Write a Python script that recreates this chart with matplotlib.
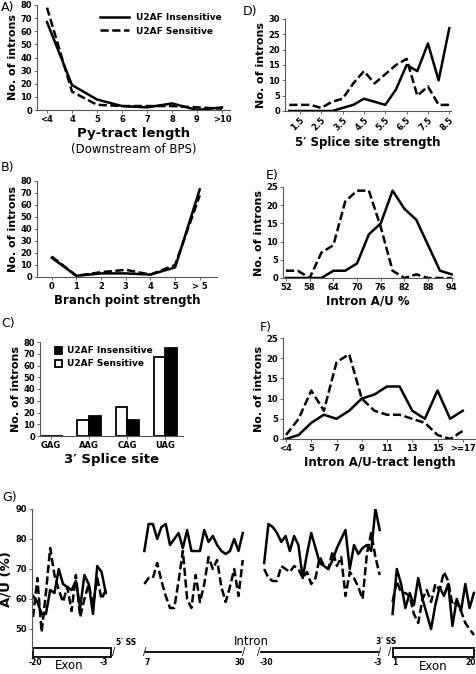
import numpy as np
import matplotlib.pyplot as plt
import matplotlib.patches as mpatches
from matplotlib.lines import Line2D

plt.rcParams["font.family"] = "DejaVu Sans"

# A) Py-tract length
py_labels = ["<4", "4", "5", "6", "7", "8", "9", ">10"]
py_insens = [67, 19, 8, 3, 2, 5, 0, 2]
py_sens = [78, 14, 4, 3, 3, 3, 2, 1]

# B) Branch point strength
bps_labels = ["0", "1", "2", "3", "4", "5", "> 5"]
bps_insens = [16, 1, 3, 3, 2, 8, 73]
bps_sens = [17, 1, 4, 6, 2, 10, 68]

# C) 3' splice site
ss3_labels = ["GAG", "AAG", "CAG", "UAG"]
ss3_insens = [0, 17, 14, 75]
ss3_sens = [0, 14, 25, 67]

# D) 5' splice site strength
ss5_bins = [1.0, 1.5, 2.0, 2.5, 3.0, 3.5, 4.0, 4.5, 5.0, 5.5, 6.0, 6.5, 7.0, 7.5, 8.0, 8.5]
ss5_insens = [0, 0, 0, 0, 0, 1, 2, 4, 3, 2, 7, 15, 13, 22, 10, 27]
ss5_sens = [2, 2, 2, 1, 3, 4, 9, 13, 9, 12, 15, 17, 5, 8, 2, 2]

# E) Intron A/U %
au_bins = [52, 55, 58, 61, 64, 67, 70, 73, 76, 79, 82, 85, 88, 91, 94]
au_insens = [0, 0, 0, 0, 2, 2, 4, 12, 15, 24, 19, 16, 9, 2, 1]
au_sens = [2, 2, 0, 7, 9, 21, 24, 24, 14, 2, 0, 1, 0, 0, 0]

# F) Intron A/U-tract length
tract_labels = ["<4", "4", "5", "6", "7", "8", "9", "10", "11", "12", "13", "14", "15", "16", ">=17"]
tract_insens = [0, 1, 4, 6, 5, 7, 10, 11, 13, 13, 7, 5, 12, 5, 7]
tract_sens = [1, 5, 12, 7, 19, 21, 10, 7, 6, 6, 5, 4, 1, 0, 2]

# G) A/U profile around splice sites
g_exon5_pos = (-20, -3)
g_exon5_insens = [61, 59, 55, 55, 63, 62, 70, 65, 64, 63, 66, 57, 68, 65, 55, 71, 69, 62]
g_exon5_sens = [54, 67, 49, 62, 77, 68, 63, 59, 64, 56, 68, 54, 60, 65, 58, 67, 60, 63]
g_intron5_pos = (7, 30)
g_intron5_insens = [76, 85, 85, 80, 84, 85, 78, 80, 82, 77, 83, 76, 76, 76, 83, 79, 81, 78,
                    76, 75, 76, 80, 76, 82]
g_intron5_sens = [65, 67, 67, 72, 66, 61, 57, 57, 66, 76, 60, 57, 68, 59, 65, 74, 70, 73,
                  64, 59, 64, 70, 61, 73]
g_intron3_pos = (-30, -3)
g_intron3_insens = [72, 85, 84, 82, 79, 81, 76, 81, 78, 67, 75, 82, 77, 72, 71, 70, 73, 77,
                    80, 83, 70, 78, 75, 77, 78, 76, 90, 83]
g_intron3_sens = [70, 67, 66, 66, 71, 70, 69, 71, 70, 67, 69, 65, 67, 74, 71, 70, 76, 71,
                  74, 61, 69, 67, 64, 60, 75, 82, 74, 68]
g_exon3_pos = (1, 20)
g_exon3_insens = [55, 70, 65, 57, 62, 58, 67, 60, 55, 50, 58, 64, 61, 65, 51, 60, 56, 65, 57, 62]
g_exon3_sens = [59, 66, 62, 62, 61, 55, 52, 60, 63, 59, 65, 63, 69, 66, 58, 59, 56, 52, 50, 48]

W, H = 476, 674
fig = plt.figure(figsize=(W / 100, H / 100), dpi=100)

LW = 1.8
DASH = (3.3, 1.4)
TICK_FS = 6
LABEL_FS = 8.5
YLABEL_FS = 8


def px_axes(left, right, top, bottom):
    return fig.add_axes([left / W, 1 - bottom / H, (right - left) / W, (bottom - top) / H])


def style(ax, ymax, ystep):
    for s in ["top", "right"]:
        ax.spines[s].set_visible(False)
    for s in ["left", "bottom"]:
        ax.spines[s].set_linewidth(0.8)
        ax.spines[s].set_color("#555555")
    ax.set_ylim(0, ymax)
    ax.set_yticks(np.arange(0, ymax + 1, ystep))
    ax.tick_params(axis="both", labelsize=TICK_FS, length=2, width=0.6, pad=1.5, color="#555555")
    for t in ax.get_yticklabels() + ax.get_xticklabels():
        t.set_fontweight("bold")


def line_panel(ax, insens, sens, ymax, ystep, xlim, ticks, ticklabels, xlabel, rot=0):
    x = np.arange(len(insens))
    ax.plot(x, sens, color="black", lw=LW, dashes=DASH)
    ax.plot(x, insens, color="black", lw=LW)
    ax.set_xlim(*xlim)
    ax.set_xticks(ticks)
    ax.set_xticklabels(ticklabels, rotation=rot, ha="center" if rot == 0 else "right",
                       rotation_mode="anchor" if rot else "default")
    style(ax, ymax, ystep)
    ax.set_xlabel(xlabel, fontsize=LABEL_FS, fontweight="bold", labelpad=2)
    ax.set_ylabel("No. of introns", fontsize=YLABEL_FS, fontweight="bold", labelpad=2)


# A
axA = px_axes(37, 230, 5, 110)
line_panel(axA, py_insens, py_sens, 80, 10, (-0.4, 7.32), range(len(py_labels)), py_labels,
           "Py-tract length")
axA.xaxis.label.set_fontsize(9.5)
axA.text(0.5, -0.31, "(Downstream of BPS)", transform=axA.transAxes, ha="center", va="top",
         fontsize=8.5)
axA.legend(handles=[Line2D([], [], color="black", lw=LW),
                    Line2D([], [], color="black", lw=LW, dashes=DASH)],
           labels=["U2AF Insensitive", "U2AF Sensitive"], loc="upper right",
           bbox_to_anchor=(1.0, 1.0), frameon=False, handlelength=3.2,
           prop={"size": 6.5, "weight": "bold"}, labelspacing=0.5)

# B
axB = px_axes(37, 217, 181, 277)
line_panel(axB, bps_insens, bps_sens, 80, 10, (-0.6, 6.7), range(len(bps_labels)), bps_labels,
           "Branch point strength")

# C
axC = px_axes(40, 183, 342, 436)
xc = np.arange(len(ss3_labels))
bw = 0.31
axC.bar(xc - bw / 2, ss3_sens, bw, color="white", edgecolor="black", lw=1.3,
        label="U2AF Sensitive")
axC.bar(xc + bw / 2, ss3_insens, bw, color="black", edgecolor="black", lw=1.3,
        label="U2AF Insensitive")
axC.set_xlim(-0.29, 3.46)
axC.set_xticks(xc)
axC.set_xticklabels(ss3_labels)
style(axC, 80, 10)
axC.set_xlabel("3\u2032 Splice site", fontsize=9.5, fontweight="bold", labelpad=2)
axC.set_ylabel("No. of introns", fontsize=YLABEL_FS, fontweight="bold", labelpad=2)
h, l = axC.get_legend_handles_labels()
axC.legend(h[::-1], l[::-1], loc="upper left", bbox_to_anchor=(0.05, 1.04), frameon=False,
           handlelength=0.8, handleheight=0.8, handletextpad=0.5,
           prop={"size": 6.5, "weight": "bold"}, labelspacing=0.45)

# D
axD = px_axes(285, 451, 19, 111)
idx_d = list(range(1, len(ss5_bins), 2))
line_panel(axD, ss5_insens, ss5_sens, 30, 5, (-0.4, 15.16), idx_d,
           [f"{ss5_bins[i]:g}" for i in idx_d], "5\u2032 Splice site strength", rot=45)

# E
axE = px_axes(283, 453, 187, 278)
idx_e = list(range(0, len(au_bins), 2))
line_panel(axE, au_insens, au_sens, 25, 5, (-0.25, 14.1), idx_e,
           [str(au_bins[i]) for i in idx_e], "Intron A/U %")

# F
axF = px_axes(283, 476, 338, 439)
idx_f = list(range(0, len(tract_labels), 2))
line_panel(axF, tract_insens, tract_sens, 25, 5, (-0.24, 15.05), idx_f,
           [tract_labels[i] for i in idx_f], "Intron A/U-tract length")

# G
axG = px_axes(32, 476, 509, 650)
segments = [
    (0, g_exon5_pos, g_exon5_insens, g_exon5_sens),
    (26, g_intron5_pos, g_intron5_insens, g_intron5_sens),
    (54, g_intron3_pos, g_intron3_insens, g_intron3_sens),
    (84, g_exon3_pos, g_exon3_insens, g_exon3_sens),
]
seg_x = []
for off, pos, ins, sen in segments:
    x = off + np.arange(len(ins))
    seg_x.append(x)
    axG.plot(x, sen, color="black", lw=LW, dashes=DASH)
    axG.plot(x, ins, color="black", lw=LW)
axG.set_xlim(-0.25, 103.5)
axG.set_ylim(43, 90)
axG.set_yticks([50, 60, 70, 80, 90])
axG.set_xticks([])
for s in ["top", "right", "bottom"]:
    axG.spines[s].set_visible(False)
axG.spines["left"].set_linewidth(0.8)
axG.spines["left"].set_color("#555555")
axG.tick_params(axis="y", labelsize=TICK_FS, length=2, width=0.6, pad=1.5, color="#555555")
for t in axG.get_yticklabels():
    t.set_fontweight("bold")
axG.set_ylabel("A/U (%)", fontsize=9.5, fontweight="bold", labelpad=2)

# schematic under G
box_kw = dict(facecolor="white", edgecolor="black", lw=1.3, clip_on=False)
ex1 = seg_x[0]
ex2 = seg_x[3]
axG.add_patch(mpatches.Rectangle((ex1[0] - 0.1, 40.6), ex1[-1] - ex1[0] + 1.2, 3.0, **box_kw))
axG.add_patch(mpatches.Rectangle((ex2[0], 40.6), ex2[-1] - ex2[0] + 0.1, 3.0, **box_kw))
in1 = seg_x[1]
in2 = seg_x[2]
axG.plot([in1[0] + 0.5, in1[-1] - 0.3], [42.2, 42.2], color="black", lw=1.3, clip_on=False)
axG.plot([in2[0] - 0.7, in2[-1] - 0.3], [42.2, 42.2], color="black", lw=1.3, clip_on=False)
slash_kw = dict(fontsize=7, ha="center", va="center", clip_on=False)
for xs in [ex1[-1] + 1.8, in1[0] + 0.1, in1[-1] + 0.3, in2[0] - 1.2, in2[-1], ex2[0] - 0.6]:
    axG.text(xs, 42.4, "/", **slash_kw)

lab_kw = dict(fontsize=5.5, fontweight="bold", va="top", clip_on=False)
for xs, (a, b) in zip(seg_x, [g_exon5_pos, g_intron5_pos, g_intron3_pos, g_exon3_pos]):
    axG.text(xs[0] + 0.6, 40.3, str(a), ha="center", **lab_kw)
    axG.text(xs[-1] + 0.5, 40.3, str(b), ha="right", **lab_kw)
axG.text(ex1[-1] + 4.8, 44.0, "5\u2032 SS", fontsize=5.5, fontweight="bold", ha="center",
         va="bottom", clip_on=False)
axG.text(in2[-1] + 1.4, 44.2, "3\u2032 SS", fontsize=5.5, fontweight="bold", ha="center",
         va="bottom", clip_on=False)
axG.text(51, 43.8, "Intron", fontsize=8.5, ha="center", va="bottom", clip_on=False)
axG.text((ex1[0] + ex1[-1]) / 2, 40.0, "Exon", fontsize=8.5, ha="center", va="top",
         clip_on=False)
axG.text((ex2[0] + ex2[-1]) / 2, 39.6, "Exon", fontsize=8.5, ha="center", va="top",
         clip_on=False)

# panel letters
for lab, x, y in [("A)", 1, 8), ("B)", 1, 167), ("C)", 1, 324), ("D)", 243, 12),
                  ("E)", 266, 176), ("F)", 260, 328), ("G)", 2, 498)]:
    fig.text(x / W, 1 - y / H, lab, fontsize=9, ha="left", va="center")

fig.savefig("out.png", dpi=100)
